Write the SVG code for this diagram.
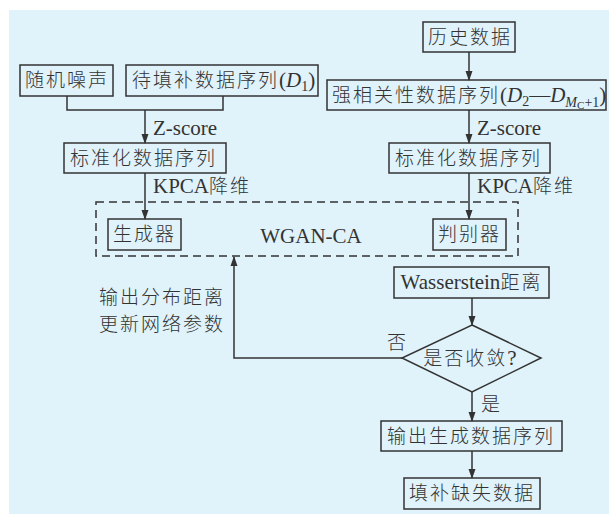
<svg xmlns="http://www.w3.org/2000/svg" width="609" height="514" viewBox="0 0 609 514">
<style>
.t{font-family:"Liberation Serif","Noto Sans CJK SC",serif;font-size:21px;fill:#333;}
.c{letter-spacing:2px;font-size:19px;font-weight:300;}
.box{fill:none;stroke:#333;stroke-width:1.5;}
.ln{fill:none;stroke:#333;stroke-width:1.5;}
.dash{fill:none;stroke:#333;stroke-width:1.5;stroke-dasharray:8,5;}
</style>
<defs>
<marker id="ar" markerWidth="10" markerHeight="10" refX="9" refY="5" orient="auto" markerUnits="userSpaceOnUse">
<path d="M0,1.5 L10,5 L0,8.5 Z" fill="#333"/>
</marker>
</defs>
<rect x="9" y="10" width="600" height="504" fill="#e0f2fa"/>
<g id="connectors">
<polyline class="ln" points="67,96 67,110 223,110 223,96"/>
<line class="ln" x1="145" y1="110" x2="145" y2="143" marker-end="url(#ar)"/>
<line class="ln" x1="145" y1="173" x2="145" y2="219" marker-end="url(#ar)"/>
<line class="ln" x1="469" y1="52" x2="469" y2="80" marker-end="url(#ar)"/>
<line class="ln" x1="469" y1="110" x2="469" y2="143" marker-end="url(#ar)"/>
<line class="ln" x1="469" y1="173" x2="469" y2="219" marker-end="url(#ar)"/>
<line class="ln" x1="472" y1="298" x2="472" y2="325" marker-end="url(#ar)"/>
<polyline class="ln" points="402,358 234,358 234,257" marker-end="url(#ar)"/>
<line class="ln" x1="472" y1="392" x2="472" y2="421" marker-end="url(#ar)"/>
<line class="ln" x1="472" y1="451" x2="472" y2="478" marker-end="url(#ar)"/>
<text class="t" x="153" y="135">Z-score</text>
<text class="t" x="153" y="193">KPCA<tspan class="c">降维</tspan></text>
<text class="t" x="477" y="135">Z-score</text>
<text class="t" x="477" y="193">KPCA<tspan class="c">降维</tspan></text>
<text class="t c" x="225" y="304" text-anchor="end">输出分布距离</text>
<text class="t c" x="225" y="331" text-anchor="end">更新网络参数</text>
<text class="t c" x="387" y="349">否</text>
<text class="t c" x="481" y="411">是</text>
</g>
<g id="wgan">
<rect class="dash" x="96" y="202" width="422" height="54"/>
<text class="t" x="311" y="243" text-anchor="middle">WGAN-CA</text>
</g>
<g id="noise">
<rect class="box" x="20" y="65" width="93" height="31"/>
<text class="t c" x="25" y="87">随机噪声</text>
</g>
<g id="d1">
<rect class="box" x="126" y="65" width="192" height="31"/>
<text class="t" x="132" y="87"><tspan class="c">待填补数据序列</tspan>(<tspan font-style="italic">D</tspan><tspan font-size="14" dy="4">1</tspan><tspan dy="-4">)</tspan></text>
</g>
<g id="history">
<rect class="box" x="423" y="22" width="92" height="30"/>
<text class="t c" x="428" y="44">历史数据</text>
</g>
<g id="strong">
<rect class="box" x="327" y="80" width="279" height="30"/>
<text class="t" x="332" y="102"><tspan class="c">强相关性数据序列</tspan>(<tspan font-style="italic">D</tspan><tspan font-size="14" dy="4">2</tspan><tspan dy="-4">—</tspan><tspan font-style="italic">D</tspan><tspan font-size="14" font-style="italic" dy="5">M</tspan><tspan font-size="11" dy="2">C</tspan><tspan font-size="14" dy="-2">+1</tspan><tspan dy="-5">)</tspan></text>
</g>
<g id="std-left">
<rect class="box" x="64" y="143" width="162" height="30"/>
<text class="t c" x="70" y="165">标准化数据序列</text>
</g>
<g id="std-right">
<rect class="box" x="389" y="143" width="161" height="30"/>
<text class="t c" x="395" y="165">标准化数据序列</text>
</g>
<g id="generator">
<rect class="box" x="108" y="219" width="73" height="31"/>
<text class="t c" x="113" y="241">生成器</text>
</g>
<g id="discriminator">
<rect class="box" x="433" y="219" width="73" height="31"/>
<text class="t c" x="438" y="241">判别器</text>
</g>
<g id="wasserstein">
<rect class="box" x="394" y="267" width="155" height="31"/>
<text class="t" x="471.5" y="289" text-anchor="middle">Wasserstein<tspan class="c">距离</tspan></text>
</g>
<g id="converge">
<polygon class="box" points="472,325 541,358 472,392 402,358"/>
<text class="t" x="470" y="365" text-anchor="middle"><tspan class="c">是否收敛</tspan>?</text>
</g>
<g id="output">
<rect class="box" x="381" y="421" width="181" height="30"/>
<text class="t c" x="387" y="443">输出生成数据序列</text>
</g>
<g id="fill">
<rect class="box" x="404" y="478" width="136" height="31"/>
<text class="t c" x="409" y="500">填补缺失数据</text>
</g>
</svg>
